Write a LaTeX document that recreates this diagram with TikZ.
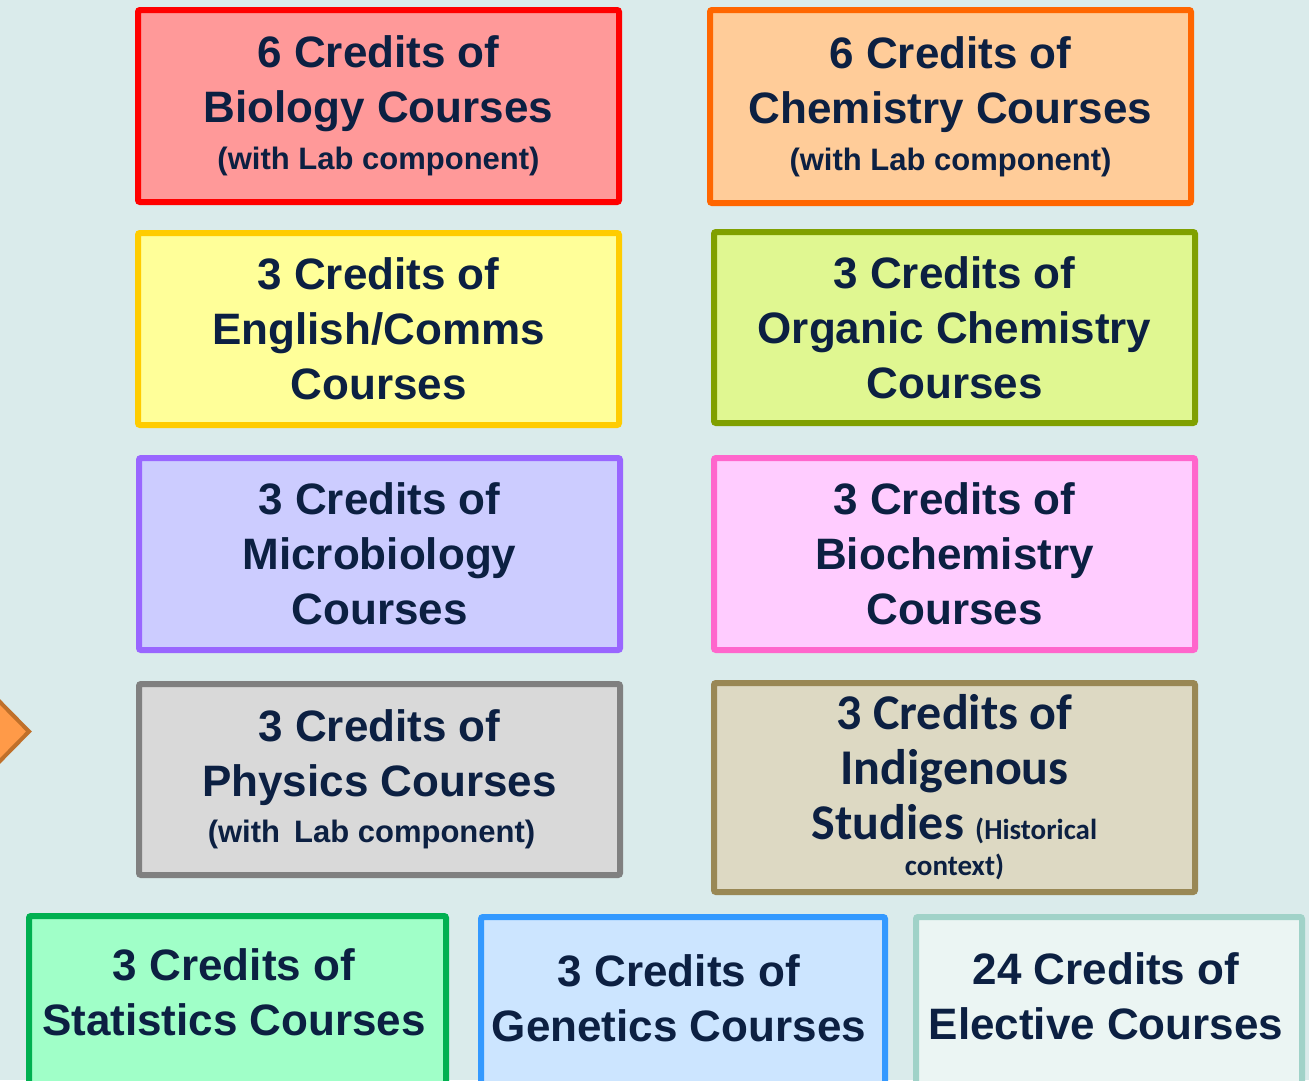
\documentclass[tikz,border=0pt]{standalone}
\usepackage{fontspec}
\usepackage{xcolor}
\usepackage{tikz}
\usetikzlibrary{positioning}
\newfontfamily\armain{Liberation Sans}
\newfontfamily\calib{Carlito}
\newcommand\maintxt{\armain\bfseries\fontsize{44}{55}\selectfont}
\newcommand\subtxt{\fontsize{31}{35}\selectfont}
\newcommand\indtxt{\calib\bfseries\fontsize{50}{55}\selectfont}
\newcommand\indsub{\fontsize{29}{33}\selectfont}
\definecolor{bgteal}{RGB}{218,235,235}
\definecolor{inkblue}{RGB}{12,32,66}
\definecolor{bioedge}{RGB}{255,0,0}
\definecolor{biofill}{RGB}{255,153,153}
\definecolor{chemedge}{RGB}{255,102,0}
\definecolor{chemfill}{RGB}{255,204,153}
\definecolor{engedge}{RGB}{255,204,0}
\definecolor{engfill}{RGB}{255,255,153}
\definecolor{orgedge}{RGB}{128,160,0}
\definecolor{orgfill}{RGB}{224,247,145}
\definecolor{microedge}{RGB}{153,102,255}
\definecolor{microfill}{RGB}{204,204,255}
\definecolor{bchemedge}{RGB}{255,102,204}
\definecolor{bchemfill}{RGB}{255,204,255}
\definecolor{physedge}{RGB}{128,128,128}
\definecolor{physfill}{RGB}{217,217,217}
\definecolor{indedge}{RGB}{153,136,85}
\definecolor{indfill}{RGB}{221,217,195}
\definecolor{statedge}{RGB}{0,176,80}
\definecolor{statfill}{RGB}{160,255,200}
\definecolor{genedge}{RGB}{51,153,255}
\definecolor{genfill}{RGB}{204,229,255}
\definecolor{elecedge}{RGB}{160,210,200}
\definecolor{elecfill}{RGB}{235,245,243}
\definecolor{arrowfill}{RGB}{255,154,72}
\definecolor{arrowedge}{RGB}{192,112,42}

\begin{document}
\begin{tikzpicture}[
  x=1pt, y=-1pt,
  every node/.style={text=inkblue, align=center, inner sep=0pt},
  box/.style={rectangle, rounded corners=2pt, line width=6pt,
    minimum width=481pt, minimum height=192pt, font=\maintxt},
  lowbox/.style={rectangle, rounded corners=2pt, line width=6pt,
    minimum height=206pt, anchor=north},
  txt/.style={font=\maintxt}
]
  \useasboundingbox (0,0) rectangle (1309,1080);
  \fill[bgteal] (0,0) rectangle (1309,1080);
  \clip (0,0) rectangle (1309,1080);

  % left pointer, cut by the page edge
  \fill[arrowfill, draw=arrowedge, line width=4pt]
    (-33,731.5) -- (-2,700) -- (29,731.5) -- (-2,763) -- cycle;

  % two columns of course boxes
  \node[box, draw=bioedge, fill=biofill] (bio) at (378.5,106)
    {6 Credits of\\Biology Courses\\[-8pt]{\subtxt (with Lab component)}};
  \node[box, draw=chemedge, fill=chemfill, minimum height=193pt] (chem) at (950.5,106.5)
    {6 Credits of\\Chemistry Courses\\[-8pt]{\subtxt (with Lab component)}};
  \node[box, draw=engedge, fill=engfill] (eng) at (378.5,329)
    {3 Credits of\\English/Comms\\Courses};
  \node[box, draw=orgedge, fill=orgfill, minimum height=191pt] (org) at (954.5,327.5)
    {3 Credits of\\Organic Chemistry\\Courses};
  \node[box, draw=microedge, fill=microfill] (micro) at (379.5,554)
    {3 Credits of\\Microbiology\\Courses};
  \node[box, draw=bchemedge, fill=bchemfill] (bchem) at (954.5,554)
    {3 Credits of\\Biochemistry\\Courses};
  \node[box, draw=physedge, fill=physfill, minimum height=191pt] (phys) at (379.5,779.5)
    {3 Credits of\\Physics Courses\\[-8.5pt]{\subtxt (with\hspace{14pt}Lab component)\hspace{16pt}\mbox{}}};
  \node[box, draw=indedge, fill=indfill, minimum height=209pt, font=\indtxt] (ind) at (954.5,787.5)
    {3 Credits of\\Indigenous\\Studies {\indsub (Historical}\\[-19pt]{\indsub context)}};

  % bottom row, running off the page
  \node[lowbox, draw=statedge, fill=statfill, minimum width=417pt] (stat) at (237.5,913) {};
  \node[lowbox, draw=genedge, fill=genfill, minimum width=404pt] (gen) at (683,914) {};
  \node[lowbox, draw=elecedge, fill=elecfill, minimum width=386pt] (elec) at (1109,914) {};
  \node[txt] (statT) at (234,992.5) {3 Credits of\\Statistics Courses};
  \node[txt] (genT) at (679,998) {3 Credits of\\Genetics Courses};
  \node[txt] (elecT) at (1106,996) {24 Credits of\\Elective Courses};
\end{tikzpicture}
\end{document}
